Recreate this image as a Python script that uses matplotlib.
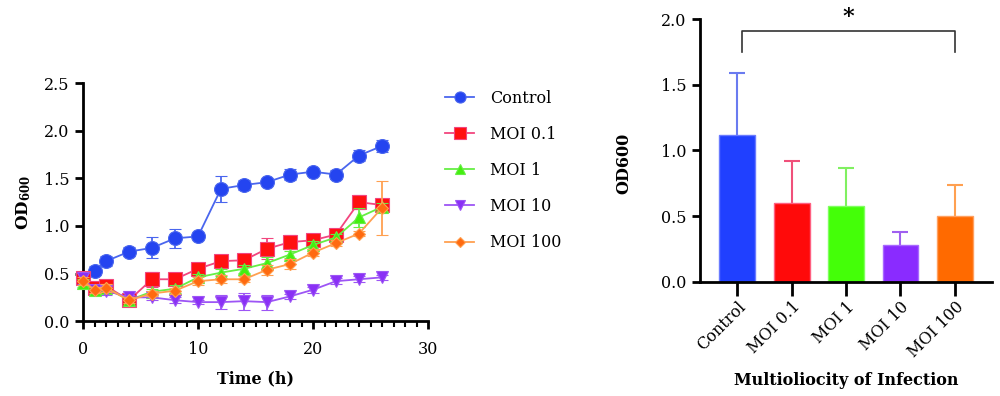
import matplotlib
matplotlib.use("Agg")
import matplotlib.pyplot as plt
from matplotlib.ticker import MultipleLocator, FormatStrFormatter
from matplotlib.lines import Line2D
import numpy as np

plt.rcParams['font.family'] = ['DejaVu Serif']
plt.rcParams['mathtext.fontset'] = 'dejavuserif'

# ---- data: growth curves ----
time_h = [0, 1, 2, 4, 6, 8, 10, 12, 14, 16, 18, 20, 22, 24, 26]
series_names = ["Control", "MOI 0.1", "MOI 1", "MOI 10", "MOI 100"]
control = [0.45, 0.53, 0.63, 0.73, 0.77, 0.87, 0.89, 1.39, 1.43, 1.46, 1.54, 1.57, 1.54, 1.74, 1.84]
control_err = [0.05, 0.05, 0.05, 0.05, 0.11, 0.10, 0.02, 0.14, 0.05, 0.03, 0.06, 0.03, 0.05, 0.06, 0.06]
moi01 = [0.45, 0.35, 0.37, 0.22, 0.44, 0.44, 0.55, 0.63, 0.64, 0.76, 0.83, 0.85, 0.91, 1.25, 1.22]
moi01_err = [0.06, 0.04, 0.05, 0.03, 0.08, 0.07, 0.05, 0.05, 0.05, 0.11, 0.07, 0.04, 0.03, 0.07, 0.05]
moi1 = [0.40, 0.33, 0.35, 0.22, 0.31, 0.34, 0.46, 0.51, 0.55, 0.61, 0.70, 0.80, 0.88, 1.09, 1.20]
moi1_err = [0.04, 0.03, 0.04, 0.03, 0.03, 0.04, 0.04, 0.04, 0.04, 0.06, 0.04, 0.04, 0.04, 0.10, 0.04]
moi10 = [0.45, 0.33, 0.32, 0.25, 0.25, 0.22, 0.20, 0.20, 0.21, 0.20, 0.26, 0.33, 0.42, 0.44, 0.46]
moi10_err = [0.06, 0.04, 0.05, 0.03, 0.03, 0.03, 0.02, 0.07, 0.09, 0.08, 0.03, 0.03, 0.03, 0.03, 0.03]
moi100 = [0.42, 0.33, 0.35, 0.22, 0.29, 0.32, 0.42, 0.44, 0.44, 0.54, 0.60, 0.72, 0.82, 0.92, 1.19]
moi100_err = [0.04, 0.03, 0.04, 0.03, 0.03, 0.03, 0.04, 0.04, 0.03, 0.05, 0.05, 0.04, 0.03, 0.03, 0.28]

# ---- data: summary bars ----
bar_labels = ["Control", "MOI 0.1", "MOI 1", "MOI 10", "MOI 100"]
bar_means = [1.12, 0.60, 0.58, 0.28, 0.50]
bar_errs = [0.47, 0.32, 0.29, 0.10, 0.24]

marker_colors = ["#2444F0", "#FF1010", "#44EE10", "#8A30F5", "#FF6A10"]
line_colors = ["#4A66EE", "#F2457E", "#66EE44", "#9D55F5", "#FFA050"]
markers = ["o", "s", "^", "v", "D"]
msizes = [10, 10, 9, 9, 6]
bar_colors = ["#2040FF", "#FF0A0A", "#44FF08", "#8A2BFF", "#FF6A00"]
bar_edge = ["#6A7BFF", "#FF6080", "#80FF60", "#A868FF", "#FFA060"]
err_colors = ["#6A7BF0", "#F0507A", "#80F060", "#A060F0", "#FFA050"]

fig = plt.figure(figsize=(10, 3.96), dpi=100)

# ---- left: growth curves ----
ax1 = fig.add_axes([0.083, 0.189, 0.345, 0.601])
ys = [control, moi01, moi1, moi10, moi100]
es = [control_err, moi01_err, moi1_err, moi10_err, moi100_err]
handles = []
for i in range(5):
    ax1.errorbar(time_h, ys[i], yerr=es[i], color=line_colors[i], lw=1.3,
                 marker=markers[i], ms=msizes[i], mfc=marker_colors[i],
                 mec=line_colors[i], mew=0.8, ecolor=line_colors[i],
                 elinewidth=1.3, capsize=4, capthick=1.3, clip_on=False,
                 zorder=3 + i * 0.1)
    handles.append(Line2D([], [], color=line_colors[i], lw=1.3, marker=markers[i],
                          ms=msizes[i] * 0.8, mfc=marker_colors[i], mec=line_colors[i],
                          mew=0.8, label=series_names[i]))

ax1.set_xlim(0, 30)
ax1.set_ylim(0, 2.5)
ax1.xaxis.set_major_locator(MultipleLocator(10))
ax1.xaxis.set_minor_locator(MultipleLocator(1))
ax1.yaxis.set_major_locator(MultipleLocator(0.5))
ax1.yaxis.set_major_formatter(FormatStrFormatter('%.1f'))
for s in ["top", "right"]:
    ax1.spines[s].set_visible(False)
for s in ["left", "bottom"]:
    ax1.spines[s].set_linewidth(2)
ax1.tick_params(axis='both', which='major', direction='out', length=6, width=2, labelsize=11.5)
ax1.tick_params(axis='x', which='minor', direction='out', length=4, width=1.5)
ax1.tick_params(axis='x', which='major', pad=8)
ax1.set_xlabel("Time (h)", fontsize=11.5, fontweight='bold', labelpad=9)
ax1.set_ylabel(r"OD$_{\mathbf{600}}$", fontsize=12, fontweight='bold', labelpad=8)

ax1.legend(handles=handles, loc='upper left', bbox_to_anchor=(1.032, 1.0),
           borderaxespad=0, frameon=False, fontsize=11.5, handlelength=1.8,
           labelspacing=1.2, handletextpad=1.0)

# ---- right: bar chart ----
ax2 = fig.add_axes([0.700, 0.289, 0.292, 0.662])
xpos = np.arange(len(bar_labels))
ax2.bar(xpos, bar_means, width=0.66, color=bar_colors, edgecolor=bar_edge, linewidth=1, zorder=2)
for i in range(len(bar_labels)):
    _, caps, _ = ax2.errorbar(xpos[i], bar_means[i], yerr=[[0], [bar_errs[i]]],
                              color=err_colors[i], elinewidth=1.5, capsize=6,
                              capthick=1.5, zorder=1)
    caps[0].set_visible(False)
ax2.set_xlim(-0.68, 4.68)
ax2.set_ylim(0, 2.0)
ax2.yaxis.set_major_locator(MultipleLocator(0.5))
ax2.yaxis.set_major_formatter(FormatStrFormatter('%.1f'))
ax2.set_xticks(xpos)
ax2.set_xticklabels(bar_labels, rotation=45, ha='right', rotation_mode='anchor')
for s in ["top", "right"]:
    ax2.spines[s].set_visible(False)
for s in ["left", "bottom"]:
    ax2.spines[s].set_linewidth(2)
ax2.tick_params(axis='y', direction='out', length=6, width=2, labelsize=11.5)
ax2.tick_params(axis='x', direction='out', length=10, width=2, labelsize=11.5, pad=2)
ax2.set_ylabel("OD600", fontsize=11.5, fontweight='bold')
ax2.yaxis.set_label_coords(-0.23, 0.45)
ax2.set_xlabel("Multioliocity of Infection", fontsize=11.5, fontweight='bold', labelpad=8)

# significance bracket
ax2.plot([0.1, 0.1, 4.0, 4.0], [1.75, 1.91, 1.91, 1.75], color='#333333', lw=1.2, clip_on=False)
ax2.text(2.05, 2.02, "*", ha='center', va='center', fontsize=16, fontweight='bold', clip_on=False)

fig.savefig("out.png", dpi=100)
